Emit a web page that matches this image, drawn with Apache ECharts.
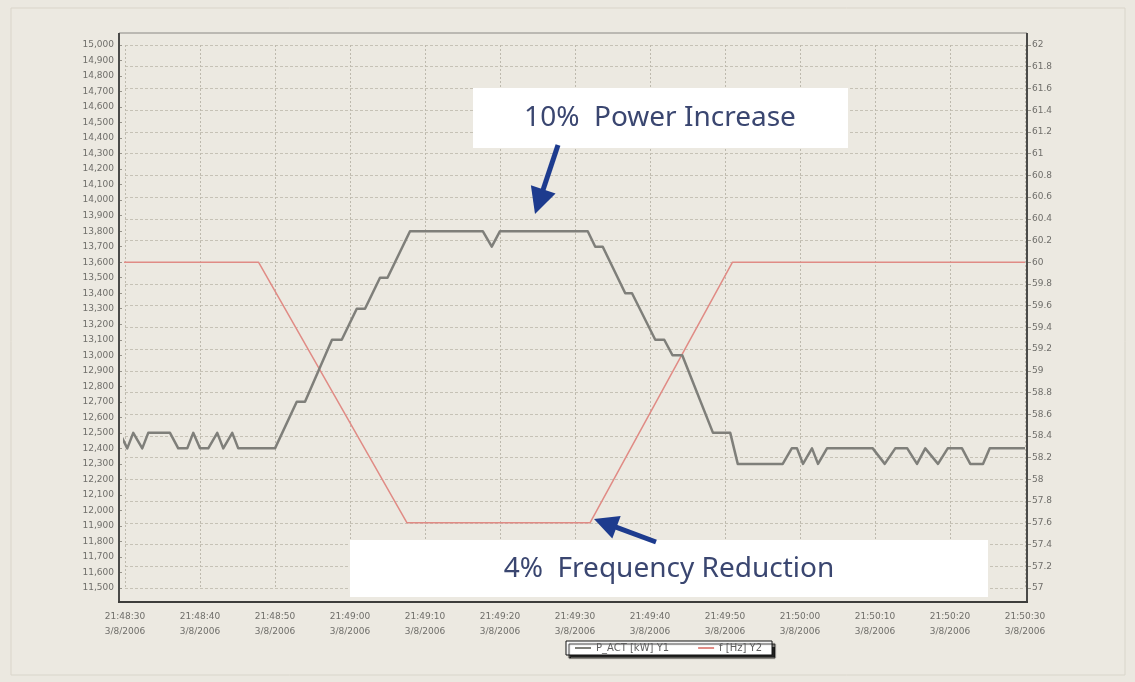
<!DOCTYPE html>
<html>
<head>
<meta charset="utf-8">
<title>P_ACT and f</title>
<script src="https://cdn.jsdelivr.net/npm/echarts@6/dist/echarts.min.js"></script>
<style>
  html, body { margin: 0; padding: 0; background: #ebe8e0; }
  #chart { width: 1135px; height: 682px; }
</style>
</head>
<body>
<div id="chart"></div>
<script>
// Recorded window: 21:48:30 to 21:50:30 on 3/8/2006, times in seconds from the start
const startClock = [21, 48, 30];
const dateLabel = '3/8/2006';

// Active power P_ACT (left axis), [second, kW] vertices
const powerPoints = [
  [-0.7, 12500], [0.3, 12400], [1.1, 12500], [2.3, 12400], [3.1, 12500],
  [6, 12500], [7.1, 12400], [8.3, 12400], [9.1, 12500], [10, 12400],
  [11.1, 12400], [12.3, 12500], [13.1, 12400], [14.3, 12500], [15.1, 12400],
  [20, 12400], [22.9, 12700], [24, 12700], [27.6, 13100], [28.9, 13100],
  [30.9, 13300], [32, 13300], [34, 13500], [35, 13500], [38, 13800],
  [47.7, 13800], [48.9, 13700], [50, 13800], [61.7, 13800], [62.7, 13700],
  [63.7, 13700], [66.7, 13400], [67.6, 13400], [70.7, 13100], [71.9, 13100],
  [73, 13000], [74.3, 13000], [78.4, 12500], [80.7, 12500], [81.7, 12300],
  [87.7, 12300], [88.9, 12400], [89.6, 12400], [90.4, 12300], [91.6, 12400],
  [92.4, 12300], [93.6, 12400], [99.7, 12400], [101.3, 12300], [102.7, 12400],
  [104.3, 12400], [105.6, 12300], [106.7, 12400], [108.4, 12300], [109.7, 12400],
  [111.6, 12400], [112.7, 12300], [114.4, 12300], [115.3, 12400], [120, 12400]
];

// Grid frequency f (right axis), [second, Hz] vertices
const freqPoints = [
  [-0.7, 60], [17.8, 60], [37.6, 57.6], [62, 57.6], [81, 60], [120, 60]
];

const seriesNames = ['P_ACT [kW] Y1', 'f [Hz] Y2'];

// Axis ranges
const timeRange = [0, 120, 10];
const powerRange = [11500, 15000, 100];
const freqRange = [57, 62, 0.2];

// Callout texts
const noteUpper = '10%  Power Increase';
const noteLower = '4%  Frequency Reduction';

function pad2(n) { return (n < 10 ? '0' : '') + n; }
function clockLabel(sec) {
  const total = startClock[0] * 3600 + startClock[1] * 60 + startClock[2] + Math.round(sec);
  const h = Math.floor(total / 3600) % 24;
  const m = Math.floor(total / 60) % 60;
  const s = total % 60;
  return h + ':' + pad2(m) + ':' + pad2(s) + '\n' + dateLabel;
}

// Arrow drawn as a thick shaft plus a triangular head
function arrow(tail, tip, headLen, headHalf, width, color) {
  const dx = tip[0] - tail[0], dy = tip[1] - tail[1];
  const len = Math.hypot(dx, dy);
  const ux = dx / len, uy = dy / len;
  const px = -uy, py = ux;
  const bx = tip[0] - ux * headLen, by = tip[1] - uy * headLen;
  return [
    { type: 'line', z: 30, shape: { x1: tail[0], y1: tail[1], x2: bx + ux * 2, y2: by + uy * 2 },
      style: { stroke: color, lineWidth: width } },
    { type: 'polygon', z: 30,
      shape: { points: [tip, [bx + px * headHalf, by + py * headHalf], [bx - px * headHalf, by - py * headHalf]] },
      style: { fill: color } }
  ];
}

const axisFont = { fontFamily: 'DejaVu Sans', fontSize: 9, color: '#6f6e6a' };
const arrowColor = '#1d3b8e';
const noteColor = '#3a4670';

const chart = echarts.init(document.getElementById('chart'), null, { renderer: 'canvas' });

chart.setOption({
  animation: false,
  backgroundColor: '#ebe8e0',
  grid: { left: 125, right: 110, top: 45, bottom: 94 },
  legend: {
    data: seriesNames,
    left: 566,
    top: 641,
    orient: 'horizontal',
    backgroundColor: '#ffffff',
    borderColor: '#111',
    borderWidth: 1,
    padding: [2, 10, 2, 8],
    itemGap: 28,
    itemWidth: 16,
    itemHeight: 2,
    shadowColor: 'rgba(0,0,0,0.85)',
    shadowBlur: 1,
    shadowOffsetX: 3,
    shadowOffsetY: 3,
    textStyle: { fontFamily: 'DejaVu Sans', fontSize: 10, color: '#5e5e5e' },
    z: 20
  },
  xAxis: {
    type: 'value',
    min: timeRange[0],
    max: timeRange[1],
    interval: timeRange[2],
    axisLine: { show: false },
    axisTick: { show: false },
    axisLabel: Object.assign({}, axisFont, {
      margin: 21,
      lineHeight: 15,
      formatter: clockLabel
    }),
    splitLine: { show: true, lineStyle: { color: '#bdb9ad', type: [2, 2], width: 1 } }
  },
  yAxis: [
    {
      type: 'value',
      position: 'left',
      offset: 6,
      min: powerRange[0],
      max: powerRange[1],
      interval: powerRange[2],
      axisLine: { show: true, onZero: false, lineStyle: { color: '#4a4a48', width: 2 } },
      axisTick: { show: true, inside: true, length: 3, lineStyle: { color: '#9a978e' } },
      axisLabel: Object.assign({}, axisFont, {
        margin: 5,
        formatter: v => v.toLocaleString('en-US')
      }),
      splitLine: { show: false }
    },
    {
      type: 'value',
      position: 'right',
      offset: 2,
      min: freqRange[0],
      max: freqRange[1],
      interval: freqRange[2],
      axisLine: { show: true, onZero: false, lineStyle: { color: '#4a4a48', width: 2 } },
      axisTick: { show: true, length: 4, lineStyle: { color: '#9a978e' } },
      axisLabel: Object.assign({}, axisFont, {
        margin: 5,
        formatter: v => String(Math.round(v * 10) / 10)
      }),
      splitLine: { show: true, lineStyle: { color: '#c6c2b6', type: [3, 2], width: 1 } }
    }
  ],
  series: [
    {
      name: seriesNames[0],
      type: 'line',
      yAxisIndex: 0,
      data: powerPoints,
      symbol: 'none',
      clip: false,
      z: 5,
      itemStyle: { color: '#7f7f7a' },
      lineStyle: { color: '#7f7f7a', width: 2.5, join: 'round' }
    },
    {
      name: seriesNames[1],
      type: 'line',
      yAxisIndex: 1,
      data: freqPoints,
      symbol: 'none',
      clip: false,
      z: 4,
      itemStyle: { color: '#e08b85' },
      lineStyle: { color: '#e08b85', width: 1.5 }
    }
  ],
  graphic: [
    // faint outer border of the panel
    { type: 'rect', z: -20, silent: true,
      shape: { x: 11, y: 8, width: 1114, height: 667 },
      style: { fill: '#ece9e1', stroke: '#d9d5ca', lineWidth: 1 } },
    // plot frame
    { type: 'rect', z: 10, silent: true,
      shape: { x: 119, y: 33, width: 908, height: 569 },
      style: { fill: null, stroke: '#8a8884', lineWidth: 1 } },
    { type: 'line', z: 11, silent: true,
      shape: { x1: 119, y1: 33, x2: 119, y2: 603 },
      style: { stroke: '#4a4a48', lineWidth: 2 } },
    { type: 'line', z: 11, silent: true,
      shape: { x1: 1027, y1: 33, x2: 1027, y2: 603 },
      style: { stroke: '#4a4a48', lineWidth: 2 } },
    { type: 'line', z: 11, silent: true,
      shape: { x1: 118, y1: 602, x2: 1028, y2: 602 },
      style: { stroke: '#3d3d3b', lineWidth: 2 } },
    // callout boxes
    { type: 'rect', z: 20, silent: true,
      shape: { x: 473, y: 88, width: 375, height: 60 },
      style: { fill: '#ffffff' } },
    { type: 'text', z: 21, silent: true,
      style: { text: noteUpper, x: 660, y: 118, align: 'center', verticalAlign: 'middle',
               font: '28px "Noto Sans"', fill: noteColor } },
    { type: 'rect', z: 20, silent: true,
      shape: { x: 350, y: 540, width: 638, height: 57 },
      style: { fill: '#ffffff' } },
    { type: 'text', z: 21, silent: true,
      style: { text: noteLower, x: 669, y: 569, align: 'center', verticalAlign: 'middle',
               font: '28px "Noto Sans"', fill: noteColor } }
  ].concat(
    arrow([558, 145], [535, 214], 26, 13, 5, arrowColor),
    arrow([656, 542], [594, 519], 24, 12, 5, arrowColor)
  )
});
</script>
</body>
</html>
